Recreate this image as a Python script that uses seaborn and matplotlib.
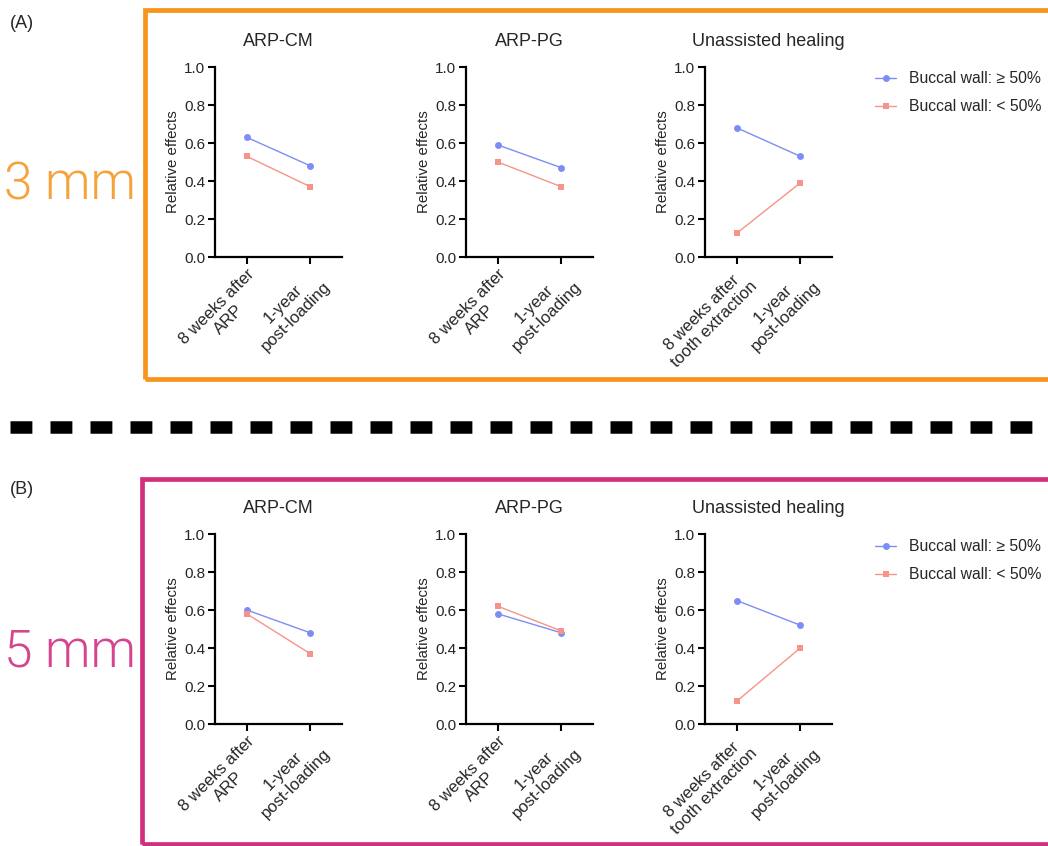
import matplotlib
matplotlib.use("Agg")
import matplotlib.pyplot as plt
from matplotlib.patches import Rectangle
from matplotlib.lines import Line2D
import seaborn as sns
import pandas as pd

sns.set_style("white")
plt.rcParams['font.family'] = ['Liberation Sans', 'DejaVu Sans']

# data
panels = ["ARP-CM", "ARP-PG", "Unassisted healing"]
groups = ["Buccal wall: \u2265 50%", "Buccal wall: < 50%"]
xlabels_arp = ["8 weeks after\nARP", "1-year\npost-loading"]
xlabels_uh = ["8 weeks after\ntooth extraction", "1-year\npost-loading"]

# 3 mm
a_hi = [[0.63, 0.48], [0.59, 0.47], [0.68, 0.53]]
a_lo = [[0.53, 0.37], [0.50, 0.37], [0.125, 0.39]]
# 5 mm
b_hi = [[0.60, 0.48], [0.58, 0.48], [0.65, 0.52]]
b_lo = [[0.58, 0.37], [0.62, 0.49], [0.12, 0.40]]

blue = "#7C8EF3"
red = "#F6948A"
orange = "#F7941D"
magenta = "#D2307E"

W, H = 1048, 846
fig = plt.figure(figsize=(W / 100, H / 100), dpi=100)


def px(x, y, w=0, h=0):
    return [x / W, 1 - (y + h) / H, w / W, h / H]


def draw_row(hi, lo, top, bottom):
    lefts = [215, 466, 705]
    for i, name in enumerate(panels):
        ax = fig.add_axes(px(lefts[i], top, 127, bottom - top))
        labs = xlabels_uh if i == 2 else xlabels_arp
        df = pd.DataFrame({
            "time": labs + labs,
            "value": hi[i] + lo[i],
            "group": [groups[0]] * 2 + [groups[1]] * 2,
        })
        sns.lineplot(data=df, x="time", y="value", hue="group", style="group",
                     palette=[blue, red], markers=["o", "s"], dashes=False,
                     markersize=5, linewidth=1.0, markeredgewidth=0,
                     legend=False, ax=ax)
        ax.set_xlim(-0.5, 1.5)
        ax.set_ylim(0, 1.0)
        ax.set_yticks([0, 0.2, 0.4, 0.6, 0.8, 1.0])
        ax.set_yticklabels([f"{v:.1f}" for v in ax.get_yticks()], fontsize=11)
        ax.set_xticks([0, 1])
        ax.set_xticklabels(labs, rotation=45, ha="right", rotation_mode="anchor",
                           multialignment="center", fontsize=12)
        ax.set_xlabel("")
        ax.set_ylabel("Relative effects", fontsize=10.8, labelpad=3)
        ax.set_title(name, fontsize=13, pad=15)
        for s in ["top", "right"]:
            ax.spines[s].set_visible(False)
        for s in ["left", "bottom"]:
            ax.spines[s].set_linewidth(1.6)
            ax.spines[s].set_color("black")
        ax.tick_params(direction="out", length=5, width=1.5, color="black",
                       bottom=True, left=True, pad=2)
        ax.patch.set_alpha(0)
    return ax


ax_a = draw_row(a_hi, a_lo, 67, 257)
ax_b = draw_row(b_hi, b_lo, 534, 724)

handles = [
    Line2D([], [], color=blue, marker="o", markersize=5, markeredgewidth=0, lw=1.0),
    Line2D([], [], color=red, marker="s", markersize=5, markeredgewidth=0, lw=1.0),
]
for y in [71, 539]:
    fig.legend(handles, groups, loc="upper left", bbox_to_anchor=(875 / W, 1 - y / H),
               frameon=False, fontsize=11.3, handlelength=1.35, labelspacing=0.85,
               handletextpad=0.8, borderaxespad=0, borderpad=0)

# framing boxes
fig.patches.append(Rectangle((145 / W, 1 - 379 / H), 920 / W, 369 / H,
                             transform=fig.transFigure, fill=False,
                             edgecolor=orange, lw=3.4, zorder=0))
fig.patches.append(Rectangle((142 / W, 1 - 844 / H), 920 / W, 365 / H,
                             transform=fig.transFigure, fill=False,
                             edgecolor=magenta, lw=3.4, zorder=0))

# dashed separator
fig.add_artist(Line2D([10 / W, 1.0], [1 - 427 / H] * 2, transform=fig.transFigure,
                      color="black", lw=9, linestyle=(0, (1.75, 1.45)),
                      solid_capstyle="butt", dash_capstyle="butt"))

fig.text(10 / W, 1 - 24 / H, "(A)", fontsize=13, va="center", ha="left")
fig.text(10 / W, 1 - 490 / H, "(B)", fontsize=13, va="center", ha="left")
fig.text(70 / W, 1 - 186 / H, "3 mm", fontsize=37, color="#F7A13A",
         ha="center", va="center", family=["Roboto", "DejaVu Sans"], fontweight=300)
fig.text(70 / W, 1 - 652 / H, "5 mm", fontsize=37, color="#D6448F",
         ha="center", va="center", family=["Roboto", "DejaVu Sans"], fontweight=300)

fig.savefig("out.png", dpi=100)
